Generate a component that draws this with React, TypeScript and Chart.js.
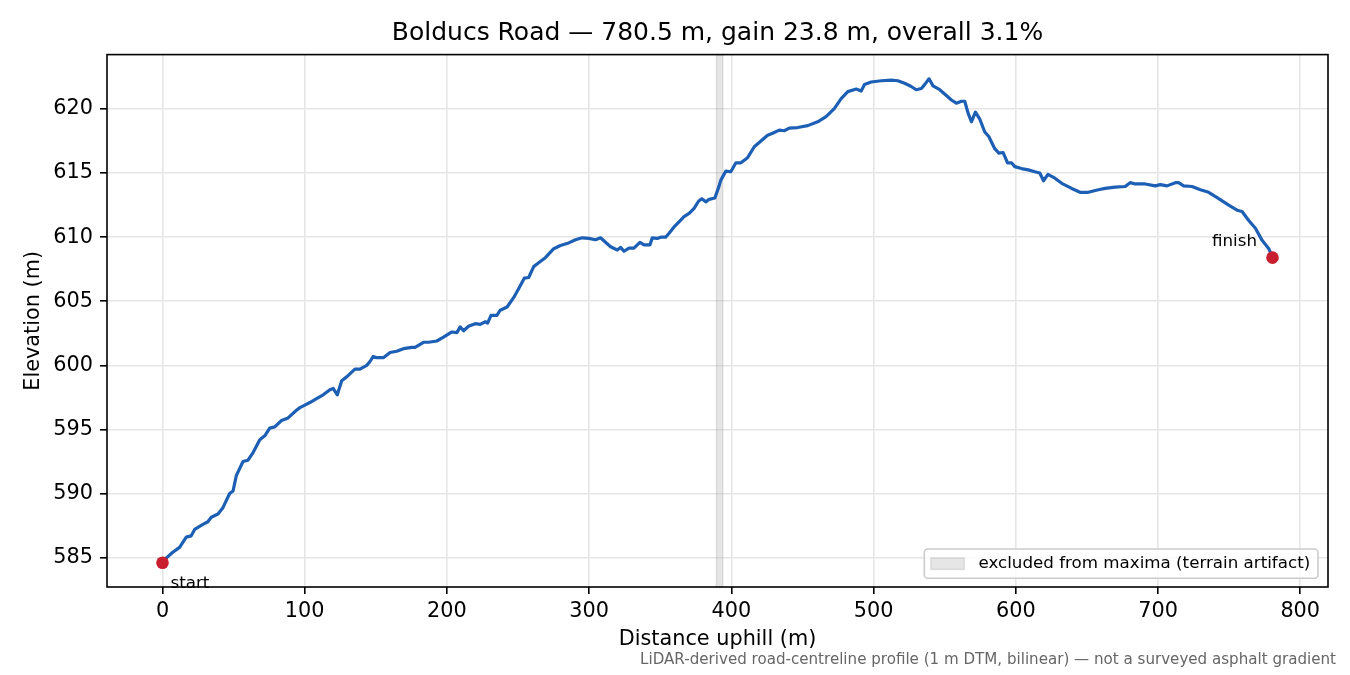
import React, { useEffect, useRef } from 'react';
import { Chart, registerables } from 'chart.js';

Chart.register(...registerables);

// ---- data ----
const DIST: number[] = [
  0, 3, 7, 12, 16.7, 20.2, 22.6, 28.4, 31.9, 34.3, 39, 42.5, 47.2, 49.6, 51.9, 56.6, 60.1, 63.7, 68.4, 71.9,
  75.4, 78.9, 83.7, 88.3, 94.2, 96.6, 100.1, 103.6, 108.3, 113, 117.7, 120, 122.9, 126, 129.5, 135.3, 138.8,
  143.6, 145.9, 148.2, 150.6, 155.3, 160, 164.7, 169.4, 175.3, 177.6, 183.5, 187.1, 192.9, 197.6, 201.8,
  203.5, 207, 209.3, 211.7, 215.2, 219.9, 223.4, 227, 228.6, 231, 235.1, 237.5, 242.3, 247, 250.5, 254.4,
  257.5, 261, 264.5, 269.2, 275.1, 279.8, 285.6, 290.4, 295.1, 299.8, 304.5, 308, 311.5, 315.1, 319.8,
  322.1, 324.5, 328, 331.5, 335.7, 338.6, 342.8, 344.4, 347.9, 350.3, 353.8, 356.2, 359.7, 363.2, 366.7,
  370.3, 373.8, 376.9, 379.2, 382.2, 384.3, 388.4, 391.4, 392.6, 396.1, 399.6, 403.2, 406.7, 411.4, 416.1,
  420.8, 425.5, 429, 433.7, 437.2, 440.7, 446.6, 453.7, 460.7, 466.6, 472.5, 477.2, 481.9, 487.8, 491.3,
  493.6, 498.3, 505.4, 512.4, 517.1, 521.8, 526.5, 530, 533.6, 535.9, 539, 541.8, 546.5, 551.2, 554.7,
  558.2, 561.8, 564.1, 566.5, 568.8, 571.6, 574.7, 578.2, 581, 585.2, 588.1, 591.1, 594.2, 597, 599.3,
  604, 608.8, 613.4, 616.9, 619.5, 622.6, 627.5, 632.3, 639.3, 645.2, 651, 658.1, 662.8, 669.8, 676.9,
  680.4, 684, 691, 698.1, 701.6, 706.3, 712.2, 714.5, 718, 723.9, 729.8, 735.6, 742.7, 749.7, 755.6,
  759.1, 763.8, 768.5, 773.2, 777.9, 780.5,
];

const ELEV: number[] = [
  584.6, 585.0, 585.4, 585.8, 586.6, 586.7, 587.2, 587.6, 587.8, 588.15, 588.4, 588.9, 590.0, 590.2, 591.4,
  592.5, 592.6, 593.2, 594.2, 594.5, 595.1, 595.2, 595.7, 595.9, 596.5, 596.7, 596.9, 597.1, 597.4, 597.7,
  598.1, 598.2, 597.7, 598.8, 599.1, 599.7, 599.7, 600.0, 600.3, 600.7, 600.6, 600.6, 601.0, 601.1, 601.3,
  601.4, 601.4, 601.8, 601.8, 601.9, 602.2, 602.5, 602.6, 602.55, 603.0, 602.7, 603.05, 603.25, 603.2,
  603.4, 603.3, 603.9, 603.9, 604.3, 604.55, 605.3, 606.0, 606.8, 606.85, 607.7, 608.0, 608.4, 609.1,
  609.35, 609.55, 609.8, 609.95, 609.9, 609.8, 609.95, 609.6, 609.25, 609.0, 609.2, 608.9, 609.15, 609.15,
  609.6, 609.4, 609.4, 609.95, 609.9, 610.0, 610.0, 610.3, 610.8, 611.2, 611.6, 611.85, 612.25, 612.8,
  613.0, 612.75, 612.95, 613.05, 614.0, 614.45, 615.15, 615.1, 615.8, 615.8, 616.2, 617.05, 617.5, 617.95,
  618.1, 618.35, 618.3, 618.5, 618.55, 618.7, 619.0, 619.4, 620.05, 620.8, 621.35, 621.55, 621.4, 621.9,
  622.1, 622.2, 622.25, 622.2, 622.0, 621.75, 621.5, 621.6, 621.9, 622.35, 621.8, 621.5, 621.05, 620.7,
  620.45, 620.6, 620.6, 619.65, 619.0, 619.75, 619.2, 618.2, 617.85, 616.9, 616.55, 616.6, 615.8, 615.8,
  615.5, 615.35, 615.25, 615.1, 615.0, 614.4, 614.9, 614.6, 614.2, 613.8, 613.5, 613.5, 613.7, 613.8,
  613.9, 613.95, 614.25, 614.15, 614.15, 614.0, 614.1, 614.0, 614.25, 614.25, 614.0, 613.95, 613.7, 613.5,
  613.0, 612.5, 612.1, 612.0, 611.3, 610.7, 609.75, 609.1, 608.4,
];

const END_DIST: number[] = [0, 780.5];
const END_ELEV: number[] = [584.6, 608.4];
const END_LABELS: string[] = ['start', 'finish'];

const X_TICKS: number[] = [0, 100, 200, 300, 400, 500, 600, 700, 800];
const Y_TICKS: number[] = [585, 590, 595, 600, 605, 610, 615, 620];
const X_MIN = -39.03;
const X_MAX = 819.53;
const Y_MIN = 582.71;
const Y_MAX = 624.24;

const BAND_START = 389.5;
const BAND_END = 394;

const TITLE = 'Bolducs Road — 780.5 m, gain 23.8 m, overall 3.1%';
const X_LABEL = 'Distance uphill (m)';
const Y_LABEL = 'Elevation (m)';
const LEGEND_LABEL = 'excluded from maxima (terrain artifact)';
const FOOTNOTE = 'LiDAR-derived road-centreline profile (1 m DTM, bilinear) — not a surveyed asphalt gradient';

const FONT = "'DejaVu Sans', 'Liberation Sans', sans-serif";
const BAND_FILL = 'rgba(128,128,128,0.2)';

const bandPlugin = {
  id: 'bandPlugin',
  beforeDatasetsDraw(chart: any) {
    const { ctx, chartArea: a, scales } = chart;
    const x0 = scales.x.getPixelForValue(BAND_START);
    const x1 = scales.x.getPixelForValue(BAND_END);
    ctx.save();
    ctx.fillStyle = BAND_FILL;
    ctx.fillRect(x0, a.top, x1 - x0, a.bottom - a.top);
    ctx.strokeStyle = BAND_FILL;
    ctx.lineWidth = 1.5;
    ctx.strokeRect(x0, a.top, x1 - x0, a.bottom - a.top);
    ctx.restore();
  },
};

const framePlugin = {
  id: 'framePlugin',
  afterDatasetsDraw(chart: any) {
    const { ctx, chartArea: a } = chart;
    ctx.save();
    ctx.strokeStyle = '#000';
    ctx.lineWidth = 1.6;
    ctx.strokeRect(a.left, a.top, a.right - a.left, a.bottom - a.top);
    ctx.restore();
  },
};

const overlayPlugin = {
  id: 'overlayPlugin',
  afterDraw(chart: any) {
    const { ctx, chartArea: a, scales } = chart;
    ctx.save();
    // endpoint annotations
    ctx.fillStyle = '#000';
    ctx.font = `16.7px ${FONT}`;
    ctx.textBaseline = 'alphabetic';
    const sx = scales.x.getPixelForValue(END_DIST[0]);
    const sy = scales.y.getPixelForValue(END_ELEV[0]);
    ctx.textAlign = 'left';
    ctx.fillText(END_LABELS[0], sx + 8, sy + 25);
    const fx = scales.x.getPixelForValue(END_DIST[1]);
    const fy = scales.y.getPixelForValue(END_ELEV[1]);
    ctx.textAlign = 'right';
    ctx.fillText(END_LABELS[1], fx - 15.5, fy - 12);

    // legend
    ctx.font = `16.7px ${FONT}`;
    const tw = ctx.measureText(LEGEND_LABEL).width;
    const boxRight = a.right - 10;
    const boxBottom = a.bottom - 8.7;
    const boxH = 29.3;
    const boxW = tw + 62;
    const boxLeft = boxRight - boxW;
    const boxTop = boxBottom - boxH;
    ctx.beginPath();
    ctx.roundRect(boxLeft, boxTop, boxW, boxH, 3.5);
    ctx.fillStyle = 'rgba(255,255,255,0.8)';
    ctx.fill();
    ctx.strokeStyle = '#cccccc';
    ctx.lineWidth = 1.6;
    ctx.stroke();
    const cy = boxTop + boxH / 2;
    const pl = boxLeft + 6.5;
    ctx.fillStyle = BAND_FILL;
    ctx.fillRect(pl, cy - 5.8, 33.5, 11.6);
    ctx.strokeStyle = BAND_FILL;
    ctx.lineWidth = 1.5;
    ctx.strokeRect(pl, cy - 5.8, 33.5, 11.6);
    ctx.fillStyle = '#000';
    ctx.textAlign = 'left';
    ctx.textBaseline = 'alphabetic';
    ctx.fillText(LEGEND_LABEL, pl + 33.5 + 14.2, cy + 4.8);

    // footnote
    ctx.font = `15.1px ${FONT}`;
    ctx.fillStyle = '#666666';
    ctx.textAlign = 'right';
    ctx.fillText(FOOTNOTE, 1336, 664);
    ctx.restore();
  },
};

export default function App() {
  const canvasRef = useRef<HTMLCanvasElement | null>(null);

  useEffect(() => {
    document.body.style.margin = '0';
    const canvas = canvasRef.current;
    if (!canvas) return;
    const lineData = DIST.map((d, i) => ({ x: d, y: ELEV[i] }));
    const endData = END_DIST.map((d, i) => ({ x: d, y: END_ELEV[i] }));

    const chart = new Chart(canvas, {
      type: 'line',
      data: {
        datasets: [
          {
            type: 'scatter',
            label: 'endpoints',
            data: endData,
            backgroundColor: '#c81e2d',
            borderWidth: 0,
            pointRadius: 6.3,
            order: 0,
          } as any,
          {
            type: 'line',
            label: 'profile',
            data: lineData,
            borderColor: '#1c5fb4',
            borderWidth: 3.2,
            pointRadius: 0,
            tension: 0,
            fill: false,
            borderJoinStyle: 'round',
            borderCapStyle: 'round',
            order: 1,
          },
        ],
      },
      options: {
        animation: false,
        responsive: false,
        devicePixelRatio: 1,
        parsing: false as any,
        layout: { padding: { left: 0, right: 22, top: 0, bottom: 0 } },
        font: { family: FONT },
        plugins: {
          legend: { display: false },
          tooltip: { enabled: false },
          title: {
            display: true,
            fullSize: false,
            text: TITLE,
            color: '#000',
            font: { family: FONT, size: 25, weight: 'normal', lineHeight: 1.2 },
            padding: { top: 18.65, bottom: 5.95 },
          },
        },
        scales: {
          x: {
            type: 'linear',
            min: X_MIN,
            max: X_MAX,
            afterBuildTicks: (s: any) => {
              s.ticks = X_TICKS.map((v) => ({ value: v }));
            },
            afterFit: (s: any) => {
              s.height = 88;
            },
            ticks: {
              color: '#000',
              font: { family: FONT, size: 20.8 },
              padding: 5,
              maxRotation: 0,
              autoSkip: false,
              callback: (v: any) => String(v),
            },
            grid: {
              color: '#e6e6e6',
              lineWidth: 1.6,
              tickColor: '#000',
              tickWidth: 1.6,
              tickLength: 7,
            },
            border: { display: false },
            title: {
              display: true,
              text: X_LABEL,
              color: '#000',
              font: { family: FONT, size: 20.8, lineHeight: 1.2 },
              padding: { top: 0, bottom: 23 },
            },
          },
          y: {
            type: 'linear',
            min: Y_MIN,
            max: Y_MAX,
            afterBuildTicks: (s: any) => {
              s.ticks = Y_TICKS.map((v) => ({ value: v }));
            },
            afterFit: (s: any) => {
              s.width = 107;
            },
            ticks: {
              color: '#000',
              font: { family: FONT, size: 20.8 },
              padding: 7,
              autoSkip: false,
              callback: (v: any) => String(v),
            },
            grid: {
              color: '#e6e6e6',
              lineWidth: 1.6,
              tickColor: '#000',
              tickWidth: 1.6,
              tickLength: 7,
            },
            border: { display: false },
            title: {
              display: true,
              text: Y_LABEL,
              color: '#000',
              font: { family: FONT, size: 20.8, lineHeight: 1.2 },
              padding: { top: 20.8, bottom: 0 },
            },
          },
        },
      },
      plugins: [bandPlugin, framePlugin, overlayPlugin],
    });

    return () => {
      chart.destroy();
    };
  }, []);

  return (
    <div style={{ position: 'absolute', left: 0, top: 0, width: 1350, height: 675, background: '#fff' }}>
      <canvas ref={canvasRef} width={1350} height={675} style={{ display: 'block', width: 1350, height: 675 }} />
    </div>
  );
}
